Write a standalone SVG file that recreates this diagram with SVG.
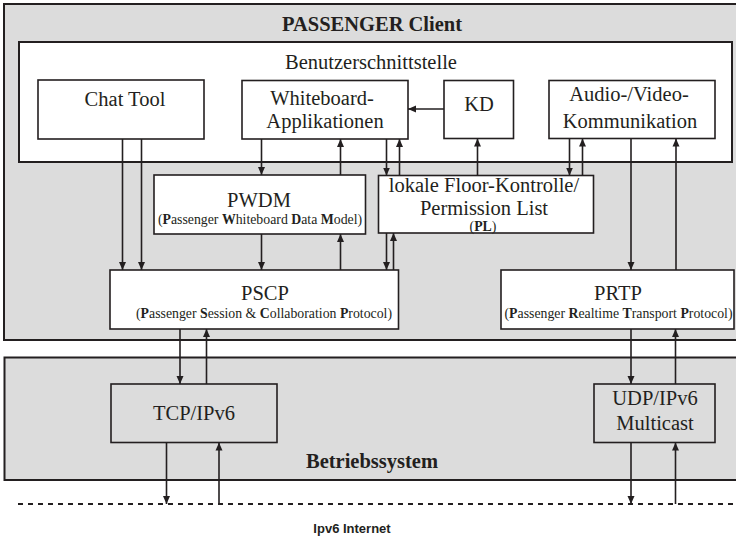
<svg xmlns="http://www.w3.org/2000/svg" width="736" height="540" viewBox="0 0 736 540">
<style>
.t{font-family:"Liberation Serif","Times New Roman",serif;fill:#231f20;text-anchor:middle}
.m{font-size:20.5px}
.s{font-size:13.8px}
.b{font-weight:bold}
.box{fill:#fff;stroke:#231f20;stroke-width:1.6}
.gbox{fill:#dcdcdc;stroke:#231f20;stroke-width:1.6}
.c line{stroke:#231f20;stroke-width:1.6}
</style>
<defs>
<marker id="ah" markerUnits="userSpaceOnUse" markerWidth="8" markerHeight="8" viewBox="0 0 8 7" refX="8" refY="3.5" orient="auto">
<path d="M0,0 L8,3.5 L0,7 z" fill="#231f20"/>
</marker>
</defs>
<rect width="736" height="540" fill="#fff"/>
<g id="client">
<rect x="4" y="4" width="740" height="336" fill="#dcdcdc" stroke="#231f20" stroke-width="2"/>
<text class="t m b" x="372" y="31">PASSENGER Client</text>
</g>
<g id="ui">
<rect x="19" y="42" width="713" height="120" fill="#fff" stroke="#231f20" stroke-width="2"/>
<text class="t m" x="371" y="69">Benutzerschnittstelle</text>
</g>
<g id="chat">
<rect class="box" x="38" y="80" width="166" height="59"/>
<text class="t m" x="125" y="106">Chat Tool</text>
</g>
<g id="whiteboard">
<rect class="box" x="242" y="80.5" width="166" height="58.5"/>
<text class="t m" x="322" y="105">Whiteboard-</text>
<text class="t m" x="325" y="127.5">Applikationen</text>
</g>
<g id="kd">
<rect class="box" x="444" y="80.5" width="69.5" height="58"/>
<text class="t m" x="479" y="111">KD</text>
</g>
<g id="av">
<rect class="box" x="549" y="80.5" width="166" height="58"/>
<text class="t m" x="629" y="101">Audio-/Video-</text>
<text class="t m" x="630" y="128">Kommunikation</text>
</g>
<g id="pwdm">
<rect class="box" x="154" y="175" width="211.5" height="59"/>
<text class="t m" x="259" y="207">PWDM</text>
<text class="t s" x="260" y="224">(<tspan class="b">P</tspan>assenger <tspan class="b">W</tspan>hiteboard <tspan class="b">D</tspan>ata <tspan class="b">M</tspan>odel)</text>
</g>
<g id="pl">
<rect class="box" x="378.5" y="175.5" width="215" height="57.5"/>
<text class="t m" x="484" y="192">lokale Floor-Kontrolle/</text>
<text class="t m" x="484" y="215">Permission List</text>
<text class="t s" x="483" y="231">(<tspan class="b">PL</tspan>)</text>
</g>
<g id="pscp">
<rect class="box" x="110" y="270" width="288.5" height="59"/>
<text class="t m" x="265" y="300">PSCP</text>
<text class="t s" x="264" y="317.5">(<tspan class="b">P</tspan>assenger <tspan class="b">S</tspan>ession &amp; <tspan class="b">C</tspan>ollaboration <tspan class="b">P</tspan>rotocol)</text>
</g>
<g id="prtp">
<rect class="box" x="501" y="270" width="233" height="59"/>
<text class="t m" x="618" y="300">PRTP</text>
<text class="t s" x="618.5" y="317.5">(<tspan class="b">P</tspan>assenger <tspan class="b">R</tspan>ealtime <tspan class="b">T</tspan>ransport <tspan class="b">P</tspan>rotocol)</text>
</g>
<g id="os">
<rect x="4.5" y="357.5" width="740" height="122.5" fill="#dcdcdc" stroke="#231f20" stroke-width="2"/>
<text class="t m b" x="372" y="468">Betriebssystem</text>
</g>
<g id="tcp">
<rect class="gbox" x="111" y="384" width="166" height="58.5"/>
<text class="t m" x="194" y="420">TCP/IPv6</text>
</g>
<g id="udp">
<rect class="gbox" x="594" y="384" width="121" height="58.5"/>
<text class="t m" x="655" y="405">UDP/IPv6</text>
<text class="t m" x="655" y="430">Multicast</text>
</g>
<g id="internet">
<line x1="18" y1="504" x2="736" y2="504" stroke="#231f20" stroke-width="2" stroke-dasharray="5 5"/>
<text x="352" y="533" font-family="'Liberation Sans',Arial,sans-serif" font-size="13" font-weight="bold" fill="#231f20" text-anchor="middle">Ipv6 Internet</text>
</g>
<g id="connectors" class="c">
<line x1="122.5" y1="139" x2="122.5" y2="270" marker-end="url(#ah)"/>
<line x1="141.5" y1="139" x2="141.5" y2="270" marker-end="url(#ah)"/>
<line x1="444" y1="109" x2="408" y2="109" marker-end="url(#ah)"/>
<line x1="261.5" y1="139" x2="261.5" y2="175" marker-end="url(#ah)"/>
<line x1="340.5" y1="175" x2="340.5" y2="139" marker-end="url(#ah)"/>
<line x1="261.5" y1="234" x2="261.5" y2="270" marker-end="url(#ah)"/>
<line x1="340.5" y1="270" x2="340.5" y2="234" marker-end="url(#ah)"/>
<line x1="386.5" y1="139" x2="386.5" y2="175.5" marker-end="url(#ah)"/>
<line x1="399.5" y1="175.5" x2="399.5" y2="139" marker-end="url(#ah)"/>
<line x1="477.5" y1="175.5" x2="477.5" y2="138.5" marker-end="url(#ah)"/>
<line x1="569.5" y1="138.5" x2="569.5" y2="175.5" marker-end="url(#ah)"/>
<line x1="582.5" y1="175.5" x2="582.5" y2="138.5" marker-end="url(#ah)"/>
<line x1="386.5" y1="233" x2="386.5" y2="270" marker-end="url(#ah)"/>
<line x1="393.5" y1="270" x2="393.5" y2="233" marker-end="url(#ah)"/>
<line x1="631" y1="138.5" x2="631" y2="270" marker-end="url(#ah)"/>
<line x1="676" y1="270" x2="676" y2="138.5" marker-end="url(#ah)"/>
<line x1="180" y1="329" x2="180" y2="384" marker-end="url(#ah)"/>
<line x1="206.5" y1="384" x2="206.5" y2="329" marker-end="url(#ah)"/>
<line x1="166.5" y1="442.5" x2="166.5" y2="504" marker-end="url(#ah)"/>
<line x1="219" y1="504" x2="219" y2="442.5" marker-end="url(#ah)"/>
<line x1="631" y1="329" x2="631" y2="384" marker-end="url(#ah)"/>
<line x1="675.5" y1="384" x2="675.5" y2="329" marker-end="url(#ah)"/>
<line x1="631" y1="442.5" x2="631" y2="504" marker-end="url(#ah)"/>
<line x1="675.5" y1="504" x2="675.5" y2="442.5" marker-end="url(#ah)"/>
</g>
</svg>
